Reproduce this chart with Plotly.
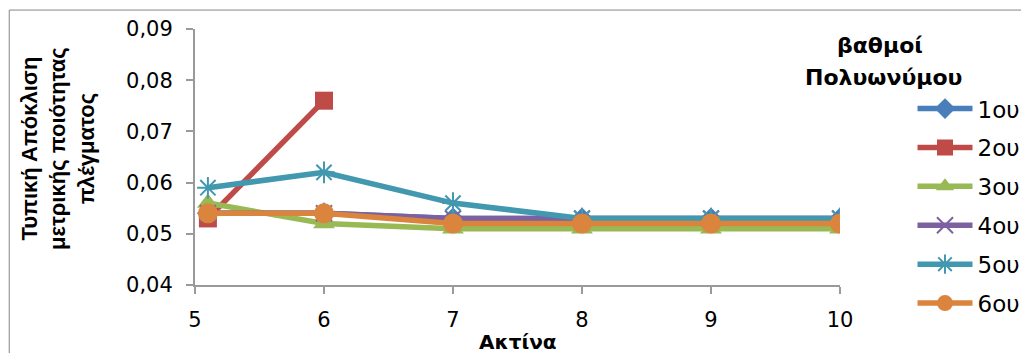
import plotly.graph_objects as go

# Ακτίνα (x) - η πρώτη τιμή είναι 5.1
aktina = [5.1, 6, 7, 8, 9, 10]

# Τυπική απόκλιση ανά βαθμό πολυωνύμου
vathmos_1 = [0.054, 0.054, 0.053, 0.053, 0.053, 0.053]
vathmos_2 = [0.053, 0.076]
vathmos_3 = [0.056, 0.052, 0.051, 0.051, 0.051, 0.051]
vathmos_4 = [0.054, 0.054, 0.053, 0.053, 0.053, 0.053]
vathmos_5 = [0.059, 0.062, 0.056, 0.053, 0.053, 0.053]
vathmos_6 = [0.054, 0.054, 0.052, 0.052, 0.052, 0.052]

onomata = ["1ου", "2ου", "3ου", "4ου", "5ου", "6ου"]
xromata = ["#4a7ebb", "#be4b48", "#98b954", "#7d60a0", "#4198af", "#db843d"]
symvola = ["diamond", "square", "triangle-up", "x-thin-open", "asterisk-open", "circle"]
megethi = [17, 18, 19, 16, 18, 20]

seires = [vathmos_1, vathmos_2, vathmos_3, vathmos_4, vathmos_5, vathmos_6]

FONT = "DejaVu Sans"
FONT_TITLOS = "Liberation Sans"

fig = go.Figure()

for i, y in enumerate(seires):
    anoikto = symvola[i].endswith("open")
    fig.add_trace(go.Scatter(
        x=aktina[:len(y)],
        y=y,
        mode="lines+markers",
        name=onomata[i],
        legendgroup=onomata[i],
        line=dict(color=xromata[i], width=5.5),
        marker=dict(
            symbol=symvola[i],
            size=megethi[i],
            color=xromata[i],
            line=dict(color=xromata[i], width=2 if anoikto else 0)
        )
    ))

# η σελίδα έχει περιθώριο 8px, οπότε το σχήμα μικραίνει αντίστοιχα
fig.update_layout(
    width=1021,
    height=345,
    margin=dict(l=187, r=189, t=21, b=68, autoexpand=False),
    paper_bgcolor="white",
    plot_bgcolor="white",
    separators=",.",
    font=dict(family=FONT, size=21, color="black"),
    showlegend=True,
    legend=dict(
        x=1.1124, xanchor="left",
        y=0.773, yanchor="top",
        font=dict(family=FONT, size=23),
        itemwidth=55,
        tracegroupgap=6,
        bgcolor="rgba(0,0,0,0)"
    )
)

fig.update_xaxes(
    range=[5, 10],
    tickvals=[5, 6, 7, 8, 9, 10],
    showline=True, linecolor="#9a9a9a", linewidth=2,
    ticks="outside", ticklen=7, tickcolor="#9a9a9a", tickwidth=2,
    ticklabelstandoff=8,
    showgrid=False, zeroline=False,
    tickfont=dict(size=21)
)

fig.update_yaxes(
    range=[0.04, 0.09],
    dtick=0.01,
    tickformat=".2f",
    showline=True, linecolor="#9a9a9a", linewidth=2,
    ticks="outside", ticklen=7, tickcolor="#9a9a9a", tickwidth=2,
    ticklabelstandoff=9,
    showgrid=False, zeroline=False,
    tickfont=dict(size=21)
)

# τίτλος άξονα x
fig.add_annotation(
    text="<b>Ακτίνα</b>",
    xref="paper", yref="paper",
    x=0.5, y=-0.222, xanchor="center", yanchor="middle",
    showarrow=False,
    font=dict(family=FONT, size=20)
)

# τίτλος άξονα y σε τρεις γραμμές
fig.add_annotation(
    text="<b>Τυπική Απόκλιση<br>μετρικής ποιότητας<br>πλέγματος</b>",
    xref="paper", yref="paper",
    x=-0.2125, y=0.535,
    xanchor="center", yanchor="middle",
    textangle=-90,
    showarrow=False,
    font=dict(family=FONT_TITLOS, size=22)
)

# τίτλος υπομνήματος (δύο γραμμές)
fig.add_annotation(
    text="<b>βαθμοί</b>",
    xref="paper", yref="paper",
    x=1.062, y=0.9375, xanchor="center", yanchor="middle",
    showarrow=False,
    font=dict(family=FONT, size=22)
)
fig.add_annotation(
    text="<b>Πολυωνύμου</b>",
    xref="paper", yref="paper",
    x=1.068, y=0.8086, xanchor="center", yanchor="middle",
    showarrow=False,
    font=dict(family=FONT, size=22)
)

# περίγραμμα γραφήματος
fig.add_shape(
    type="rect", xref="paper", yref="paper",
    x0=-0.288, x1=1.40, y0=-0.40, y1=1.074,
    line=dict(color="#868686", width=1),
    layer="below"
)

fig.write_html("out.html")
